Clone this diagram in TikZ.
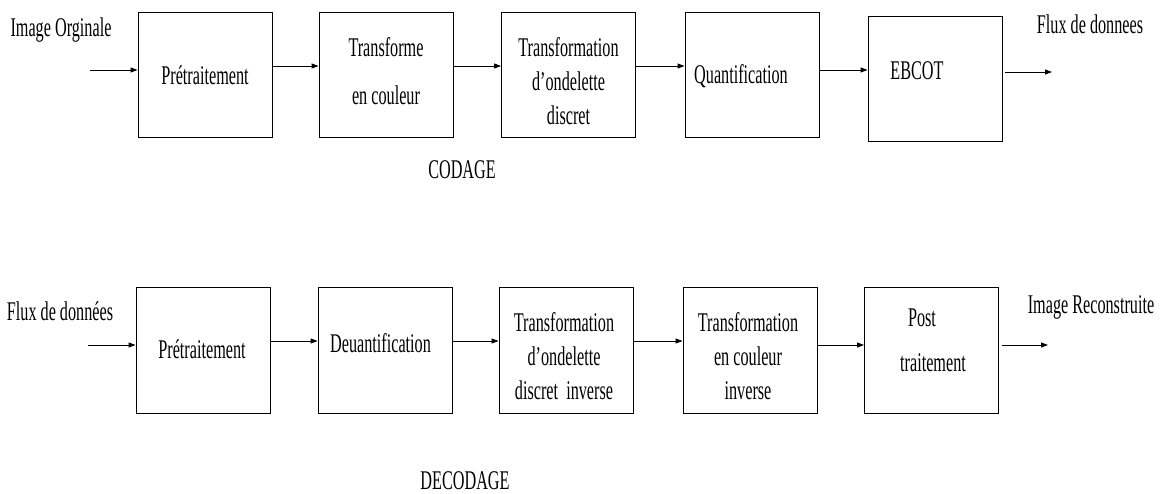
\documentclass[tikz,border=0pt]{standalone}
\usepackage{fontspec}
\setmainfont[FakeStretch=0.6]{Liberation Serif}
\usetikzlibrary{arrows.meta,calc}
\begin{document}
\begin{tikzpicture}[x=1pt,y=-1pt,
  box/.style={draw,line width=0.9pt,minimum width=134pt,minimum height=125pt,inner sep=0pt},
  lbl/.style={font=\fontsize{27}{34}\selectfont,align=center,inner sep=0pt},
  wide/.style={font=\fontsize{27}{48}\selectfont},
  arr/.style={line width=0.9pt,-{Triangle[length=7pt,width=5pt]}}]
\useasboundingbox (0,0) rectangle (1161,494);

% ---------- CODAGE ----------
\node[box] (b1) at (205,74.5) {};
\node[box] (b2) at (386,74.5) {};
\node[box] (b3) at (568.5,74.5) {};
\node[box] (b4) at (752,74.5) {};
\node[box] (b5) at (935,78.5) {};

\node[lbl] (tin) at (61,30) {Image Orginale};
\node[lbl] (t1) at (205,75) {Prétraitement};
\node[lbl,wide] (t2) at (386,71) {Transforme\\en couleur};
\node[lbl] (t3) at (568.5,81) {Transformation\\d’ondelette\\discret};
\node[lbl] (t4) at (741,76.5) {Quantification};
\node[lbl] (t5) at (917,71) {EBCOT};
\node[lbl] (tout) at (1090,24) {Flux de donnees};
\node[lbl] (tcod) at (462,170) {CODAGE};

\coordinate (in1) at (90,70);
\coordinate (out1) at (1052,72);
\draw[arr] (in1) -- (b1.west |- in1);
\draw[arr] ($(b1.east)+(0,-8.5)$) -- ($(b2.west)+(0,-8.5)$);
\draw[arr] ($(b2.east)+(0,-8.5)$) -- ($(b3.west)+(0,-8.5)$);
\draw[arr] ($(b3.east)+(0,-8.5)$) -- ($(b4.west)+(0,-8.5)$);
\draw[arr] ($(b4.east)+(0,-4.5)$) -- ($(b5.west)+(0,-8.5)$);
\draw[arr] ($(b5.east |- out1)+(3,0)$) -- (out1);

% ---------- DECODAGE ----------
\node[box,minimum height=126pt] (d1) at (203,350) {};
\node[box,minimum height=126pt] (d2) at (385,350) {};
\node[box,minimum height=126pt] (d3) at (566,350) {};
\node[box,minimum height=126pt] (d4) at (750,350) {};
\node[box,minimum height=126pt] (d5) at (931.5,350) {};

\node[lbl] (uin) at (60,311) {Flux de données};
\node[lbl] (u1) at (202,349) {Prétraitement};
\node[lbl] (u2) at (380.5,343) {Deuantification};
\node[lbl] (u3) at (564,356) {Transformation\\d’ondelette\\discret\ \ inverse};
\node[lbl] (u4) at (748,356) {Transformation\\en couleur\\inverse};
\node[lbl] (u5a) at (922,318) {Post};
\node[lbl] (u5b) at (933,363) {traitement};
\node[lbl] (uout) at (1091,307) {Image Reconstruite};
\node[lbl] (udec) at (465,481) {DECODAGE};

\coordinate (in2) at (88,345);
\coordinate (out2) at (1048,345);
\draw[arr] (in2) -- (d1.west |- in2);
\draw[arr] ($(d1.east)+(0,-9)$) -- ($(d2.west)+(0,-9)$);
\draw[arr] ($(d2.east)+(0,-9)$) -- ($(d3.west)+(0,-9)$);
\draw[arr] ($(d3.east)+(0,-9)$) -- ($(d4.west)+(0,-9)$);
\draw[arr] ($(d4.east)+(0,-5)$) -- ($(d5.west)+(0,-5)$);
\draw[arr] ($(d5.east |- out2)+(3,0)$) -- (out2);
\end{tikzpicture}
\end{document}
